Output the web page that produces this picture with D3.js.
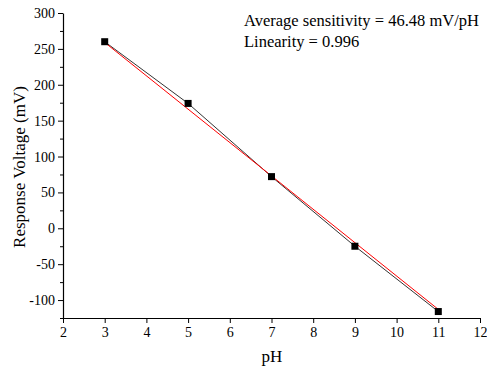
<!DOCTYPE html>
<html>
  <head>
    <meta charset="utf-8">
    <script src="https://cdn.jsdelivr.net/npm/d3@7"></script>
    <style>
      body { margin: 0; background: #fff; }
      text { font-family: "Liberation Serif", "Times New Roman", serif; fill: #000; }
    </style>
  </head>
  <body>
    <svg id="chart" width="487" height="372"></svg>
    <script>
      // measured points
      var phValues = [3, 5, 7, 9, 11];
      var voltages = [260, 174, 72, -25, -116];
      // linear fit drawn in red (end points)
      var fitPh = [3, 11];
      var fitVoltage = [259, -113];
      var xTicks = [2, 3, 4, 5, 6, 7, 8, 9, 10, 11, 12];
      var yTicks = [-100, -50, 0, 50, 100, 150, 200, 250, 300];
      var yMinor = [-125, -75, -25, 25, 75, 125, 175, 225, 275];
      var notes = ["Average sensitivity = 46.48 mV/pH", "Linearity = 0.996"];

      var svg = d3.select("#chart");
      var x = d3.scaleLinear().domain([2, 12]).range([63, 480]);
      var y = d3.scaleLinear().domain([-125, 300]).range([318, 13]);

      var line = d3.line().x(d => x(d[0])).y(d => y(d[1]));

      // minor y ticks
      svg.append("g").attr("transform", "translate(63,0)")
        .call(d3.axisLeft(y).tickValues(yMinor).tickSize(3).tickFormat(""))
        .call(g => g.select(".domain").remove());

      var yAxis = svg.append("g").attr("transform", "translate(63,0)")
        .call(d3.axisLeft(y).tickValues(yTicks).tickSize(5).tickSizeOuter(0).tickPadding(3)
          .tickFormat(d => String(d)));
      yAxis.attr("font-family", "Liberation Serif").attr("font-size", 14);
      yAxis.select(".domain").attr("stroke-width", 1.2);

      var xAxis = svg.append("g").attr("transform", "translate(0,318)")
        .call(d3.axisBottom(x).tickValues(xTicks).tickSize(5).tickSizeOuter(0).tickPadding(4)
          .tickFormat(d => String(d)));
      xAxis.attr("font-family", "Liberation Serif").attr("font-size", 14);
      xAxis.select(".domain").attr("stroke-width", 1.2);

      var pts = phValues.map((p, i) => [p, voltages[i]]);

      svg.append("path").attr("d", line(pts))
        .attr("fill", "none").attr("stroke", "#333").attr("stroke-width", 1);

      svg.append("path").attr("d", line(fitPh.map((p, i) => [p, fitVoltage[i]])))
        .attr("fill", "none").attr("stroke", "red").attr("stroke-width", 1);

      svg.append("g").selectAll("rect").data(pts).enter().append("rect")
        .attr("x", d => x(d[0]) - 3.5).attr("y", d => y(d[1]) - 3.5)
        .attr("width", 7).attr("height", 7).attr("fill", "#000");

      svg.append("g").selectAll("text").data(notes).enter().append("text")
        .attr("x", 244).attr("y", (d, i) => 26 + i * 21)
        .style("font-size", "16.5px").text(d => d);

      svg.append("text").attr("x", 272).attr("y", 362).attr("text-anchor", "middle")
        .style("font-size", "17px").text("pH");

      svg.append("text").attr("transform", "translate(25,167) rotate(-90)")
        .attr("text-anchor", "middle").style("font-size", "17px").text("Response Voltage (mV)");
    </script>
  </body>
</html>
